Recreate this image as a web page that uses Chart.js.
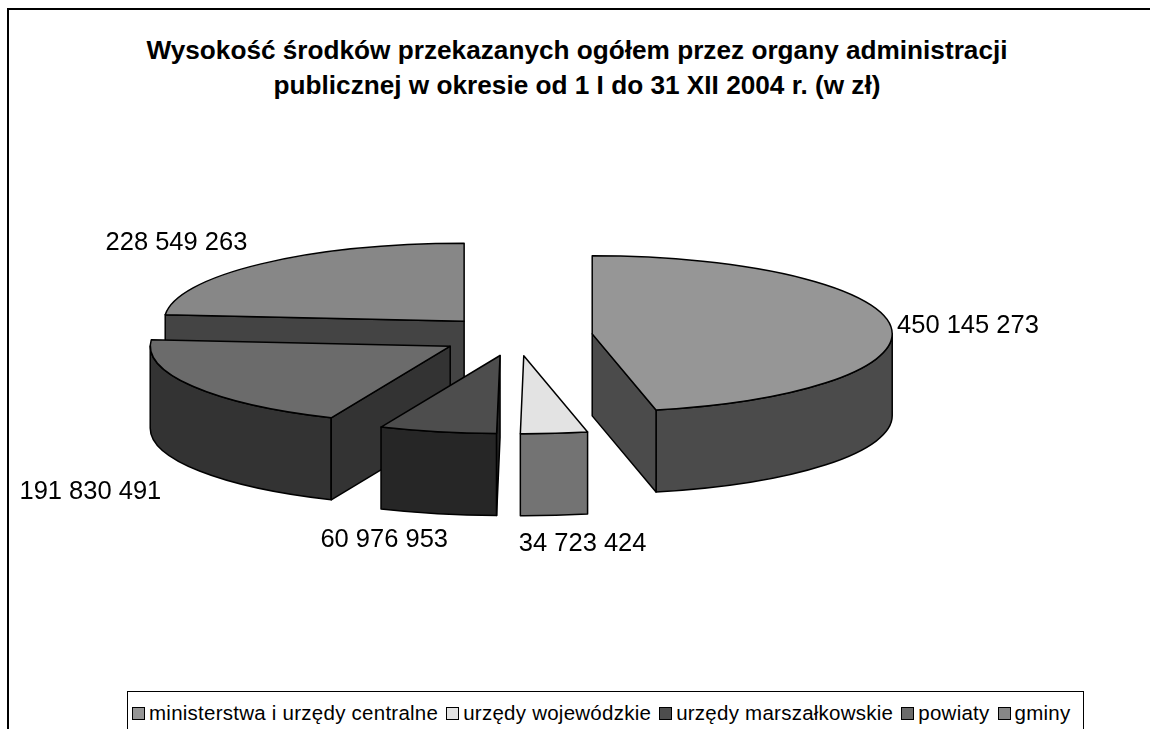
<!DOCTYPE html>
<html>
<head>
<meta charset="utf-8">
<script src="https://cdn.jsdelivr.net/npm/chart.js@4/dist/chart.umd.min.js"></script>
<style>
  html, body { margin:0; padding:0; background:#fff; width:1150px; height:729px; overflow:hidden;
    font-family:"Liberation Sans", Arial, sans-serif; }
  #frame { position:absolute; left:7px; top:8px; width:1160px; height:800px; border:2px solid #000; box-sizing:border-box; }
  #title { position:absolute; left:0; top:33px; width:1154px; text-align:center; font-weight:bold;
    font-size:26.2px; line-height:35px; color:#000; }
  #chart { position:absolute; left:0; top:0; }
  #legend { position:absolute; left:127px; top:691px; width:957px; height:50px; border:1.5px solid #000;
    box-sizing:border-box; display:flex; justify-content:flex-start; align-items:flex-start; padding:9px 0 0 4px;
    font-size:20.5px; letter-spacing:0.25px; color:#000; white-space:nowrap; background:#fff; }
  #legend .item { display:flex; align-items:center; margin-right:8px; }
  #legend .box { width:11px; height:11px; border:1px solid #000; margin-right:4px; }
</style>
</head>
<body>
<div id="frame"></div>
<div id="title">Wysokość środków przekazanych ogółem przez organy administracji<br>publicznej w okresie od 1 I do 31 XII 2004 r. (w zł)</div>
<canvas id="chart" width="1150" height="729"></canvas>
<div id="legend"></div>
<script>
// ---- data ----
const categories = ['ministerstwa i urzędy centralne', 'urzędy wojewódzkie', 'urzędy marszałkowskie', 'powiaty', 'gminy'];
const values = [450145273, 34723424, 60976953, 191830491, 228549263];

// ---- styles ----
const topColors  = ['#969696', '#e3e3e3', '#4d4d4d', '#6b6b6b', '#878787'];
const sideColors = ['#4b4b4b', '#737373', '#262626', '#333333', '#444444'];
const labelNudge = [[-3, 3], [21, 3], [-38, 1], [-33, 10], [-30, -2]];

function fmt(v) { return String(v).replace(/\B(?=(\d{3})+(?!\d))/g, ' '); }

const pie3d = {
  id: 'pie3d',
  beforeDatasetsDraw(chart, args, o) {
    const ctx = chart.ctx;
    const meta = chart.getDatasetMeta(0);
    const k = o.tilt, d = o.depth, ex = o.explode;
    const items = meta.data.map((el, i) => {
      const p = el.getProps(['x', 'y', 'startAngle', 'endAngle', 'outerRadius'], true);
      const mid = (p.startAngle + p.endAngle) / 2;
      const R = p.outerRadius;
      const ax = p.x + ex * R * Math.cos(mid);
      const ay = p.y + k * ex * R * Math.sin(mid);
      return { el, i, p, mid, R, ax, ay };
    });
    chart.$pie3d = items;
    const sorted = items.slice().sort((a, b) => a.ay - b.ay);
    ctx.save();
    ctx.lineWidth = o.lineWidth;
    ctx.strokeStyle = '#000';
    ctx.lineJoin = 'round';
    for (const it of sorted) {
      const { p, R, ax, ay } = it;
      const ry = k * R;
      const a0 = p.startAngle, a1 = p.endAngle;
      ctx.fillStyle = sideColors[it.i];
      // curved outer wall (front half only)
      const s = Math.max(a0, 0), e = Math.min(a1, Math.PI);
      if (e > s) {
        ctx.beginPath();
        ctx.ellipse(ax, ay, R, ry, 0, s, e, false);
        ctx.lineTo(ax + R * Math.cos(e), ay + ry * Math.sin(e) + d);
        ctx.ellipse(ax, ay + d, R, ry, 0, e, s, true);
        ctx.closePath();
        ctx.fill(); ctx.stroke();
      }
      // radial faces turned toward the viewer
      const faces = [];
      if (Math.cos(a0) < 0) faces.push(a0);
      if (Math.cos(a1) > 0) faces.push(a1);
      for (const a of faces) {
        const px = ax + R * Math.cos(a), py = ay + ry * Math.sin(a);
        ctx.beginPath();
        ctx.moveTo(ax, ay); ctx.lineTo(px, py); ctx.lineTo(px, py + d); ctx.lineTo(ax, ay + d);
        ctx.closePath();
        ctx.fill(); ctx.stroke();
      }
      // top face drawn by the library's arc element, flattened and exploded
      ctx.save();
      ctx.translate(p.x, p.y);
      ctx.scale(1, k);
      ctx.translate(-p.x, -p.y);
      ctx.translate(ex * R * Math.cos(it.mid), ex * R * Math.sin(it.mid));
      it.el.draw(ctx);
      ctx.restore();
      // top outline
      ctx.beginPath();
      ctx.moveTo(ax, ay);
      ctx.ellipse(ax, ay, R, ry, 0, a0, a1, false);
      ctx.closePath();
      ctx.stroke();
    }
    ctx.restore();
    return false;
  },
  afterDraw(chart, args, o) {
    const items = chart.$pie3d; if (!items) return;
    const ctx = chart.ctx;
    ctx.save();
    ctx.font = o.labelFont;
    ctx.fillStyle = '#000';
    ctx.textAlign = 'center';
    ctx.textBaseline = 'middle';
    for (const it of items) {
      const txt = fmt(values[it.i]);
      const w = ctx.measureText(txt).width;
      const c = Math.cos(it.mid), s = Math.sin(it.mid);
      const axp = it.ax + it.R * c;
      const ayp = it.ay + o.tilt * it.R * s + (s > 0 ? o.depth : 0);
      const x = axp + c * (w / 2 + 10) + labelNudge[it.i][0];
      const y = ayp + s * (14 + 12) + labelNudge[it.i][1];
      ctx.fillText(txt, x, y);
    }
    ctx.restore();
  }
};

new Chart(document.getElementById('chart'), {
  type: 'pie',
  data: {
    labels: categories,
    datasets: [{ data: values, backgroundColor: topColors, borderWidth: 0, offset: 0 }]
  },
  options: {
    responsive: false,
    animation: false,
    devicePixelRatio: 1,
    radius: 300,
    layout: { padding: { left: 0, right: 118, top: 0, bottom: 57 } },
    plugins: {
      legend: { display: false },
      title: { display: false },
      tooltip: { enabled: false },
      pie3d: { tilt: 0.26, depth: 82, explode: 0.2555, lineWidth: 1.5, labelFont: '25.5px "Liberation Sans", Arial, sans-serif' }
    }
  },
  plugins: [pie3d]
});

// legend built from the same arrays
const lg = document.getElementById('legend');
categories.forEach((c, i) => {
  const it = document.createElement('span'); it.className = 'item';
  const b = document.createElement('span'); b.className = 'box'; b.style.background = topColors[i];
  const t = document.createElement('span'); t.textContent = c;
  it.appendChild(b); it.appendChild(t); lg.appendChild(it);
});
</script>
</body>
</html>
